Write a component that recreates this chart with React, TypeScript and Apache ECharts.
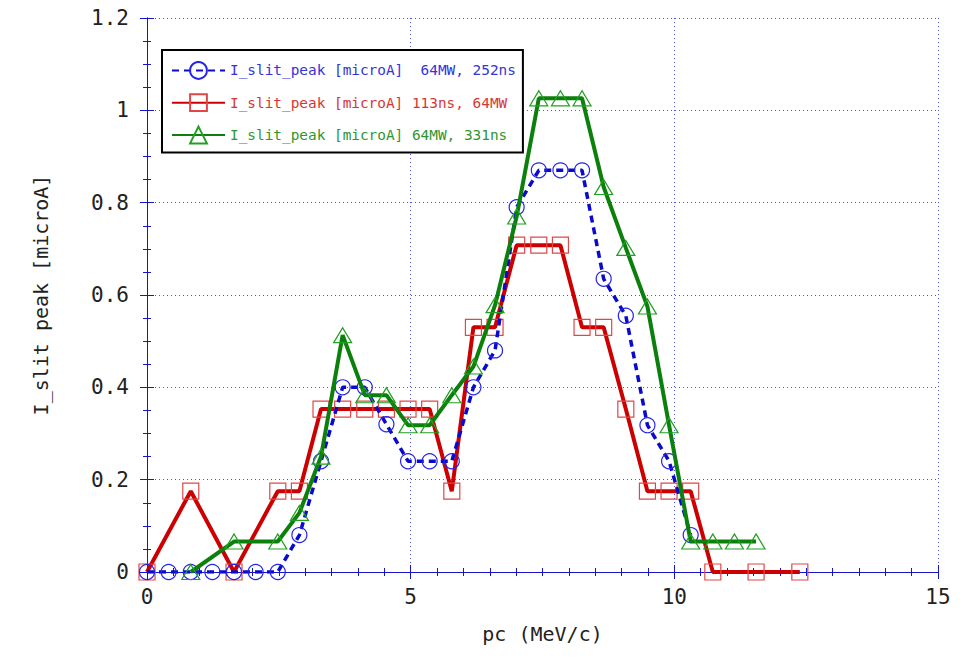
import React, { useEffect, useRef } from "react";
import * as echarts from "echarts";

const blueX = [0, 0.41, 0.83, 1.24, 1.65, 2.06, 2.48, 2.89, 3.3, 3.71, 4.13, 4.54, 4.95, 5.36, 5.78, 6.19, 6.6, 7.01, 7.43, 7.84, 8.25, 8.66, 9.08, 9.49, 9.9, 10.31];
const blueY = [0, 0, 0, 0, 0, 0, 0, 0.08, 0.24, 0.4, 0.4, 0.32, 0.24, 0.24, 0.24, 0.4, 0.48, 0.79, 0.87, 0.87, 0.87, 0.635, 0.555, 0.318, 0.24, 0.08];

const redX = [0, 0.83, 1.65, 2.48, 2.89, 3.3, 3.71, 4.13, 4.54, 4.95, 5.36, 5.78, 6.19, 6.6, 7.01, 7.43, 7.84, 8.25, 8.66, 9.08, 9.49, 9.9, 10.31, 10.73, 11.55, 12.38];
const redY = [0, 0.175, 0, 0.175, 0.175, 0.353, 0.353, 0.353, 0.353, 0.353, 0.353, 0.175, 0.53, 0.53, 0.708, 0.708, 0.708, 0.53, 0.53, 0.353, 0.175, 0.175, 0.175, 0, 0, 0];

const greenX = [0.83, 1.65, 2.48, 2.89, 3.3, 3.71, 4.13, 4.54, 4.95, 5.36, 5.78, 6.19, 6.6, 7.01, 7.43, 7.84, 8.25, 8.66, 9.08, 9.49, 9.9, 10.31, 10.73, 11.14, 11.55];
const greenY = [0, 0.066, 0.066, 0.128, 0.25, 0.513, 0.383, 0.383, 0.318, 0.318, 0.383, 0.445, 0.578, 0.77, 1.026, 1.026, 1.026, 0.834, 0.702, 0.575, 0.318, 0.066, 0.066, 0.066, 0.066];

const seriesNames = [
  "I_slit_peak [microA]  64MW, 252ns",
  "I_slit_peak [microA] 113ns, 64MW",
  "I_slit_peak [microA] 64MW, 331ns",
];
const legendTextColors = ["#3434d8", "#d83636", "#2f962f"];

const xTitle = "pc (MeV/c)";
const yTitle = "I_slit peak [microA]";

const MONO = "'DejaVu Sans Mono', 'Liberation Mono', monospace";
const AXIS_BLUE = "#1515cc";
const GRID_BLUE = "#5050e0";

function pairs(xs: number[], ys: number[]) {
  return xs.map((x, i) => [x, ys[i]]);
}

export default function App() {
  const ref = useRef<HTMLDivElement>(null);
  useEffect(() => {
    if (!ref.current) return;
    const chart = echarts.init(ref.current, undefined, { renderer: "svg" });
    const frameAxis = {
      axisLine: { show: true, lineStyle: { color: AXIS_BLUE, width: 1 } },
      axisTick: { show: true, inside: true, length: 7, lineStyle: { color: AXIS_BLUE } },
      minorTick: { show: true, length: 4, lineStyle: { color: AXIS_BLUE } },
    };
    chart.setOption({
      animation: false,
      backgroundColor: "#fff",
      grid: { left: 147, right: 33, top: 18, bottom: 86, show: false },
      legend: {
        show: true,
        orient: "vertical",
        left: 162,
        top: 50,
        backgroundColor: "#fff",
        borderColor: "#000",
        borderWidth: 2,
        borderRadius: 0,
        padding: [11, 7, 8, 9],
        itemWidth: 53,
        itemHeight: 21,
        itemGap: 13.5,
        selectedMode: false,
        textStyle: { fontFamily: MONO, fontSize: 14.4 },
        data: seriesNames.map((n, i) => ({ name: n, textStyle: { color: legendTextColors[i], fontFamily: MONO, fontSize: 14.4 } })),
      },
      xAxis: [
        {
          type: "value",
          min: 0,
          max: 15,
          interval: 5,
          position: "bottom",
          ...frameAxis,
          minorTick: { ...frameAxis.minorTick, splitNumber: 10 },
          splitLine: { show: true, lineStyle: { color: GRID_BLUE, type: [1, 3], width: 1 } },
          axisLabel: { fontFamily: MONO, fontSize: 21, color: "#222", margin: 14 },
          name: xTitle,
          nameLocation: "middle",
          nameGap: 52,
          nameTextStyle: { fontFamily: MONO, fontSize: 20, color: "#222" },
        },
        {
          type: "value",
          min: 0,
          max: 15,
          interval: 5,
          position: "top",
          ...frameAxis,
          minorTick: { ...frameAxis.minorTick, splitNumber: 10 },
          splitLine: { show: false },
          axisLabel: { show: false },
        },
      ],
      yAxis: [
        {
          type: "value",
          min: 0,
          max: 1.2,
          interval: 0.2,
          position: "left",
          ...frameAxis,
          minorTick: { ...frameAxis.minorTick, splitNumber: 4 },
          splitLine: { show: true, lineStyle: { color: GRID_BLUE, type: [1, 3], width: 1 } },
          axisLabel: {
            fontFamily: MONO,
            fontSize: 21,
            color: "#222",
            margin: 18,
            formatter: (v: number) => (Math.abs(v) < 1e-9 ? "0" : Math.abs(v - 1) < 1e-9 ? "1" : v.toFixed(1)),
          },
          name: yTitle,
          nameLocation: "middle",
          nameGap: 96,
          nameTextStyle: { fontFamily: MONO, fontSize: 20, color: "#222" },
        },
        {
          type: "value",
          min: 0,
          max: 1.2,
          interval: 0.2,
          position: "right",
          ...frameAxis,
          minorTick: { ...frameAxis.minorTick, splitNumber: 4 },
          splitLine: { show: false },
          axisLabel: { show: false },
        },
      ],
      series: [
        {
          name: seriesNames[0],
          type: "line",
          data: pairs(blueX, blueY),
          symbol: "circle",
          symbolSize: 15,
          itemStyle: { color: "rgba(0,0,0,0)", borderColor: "#2525ea", borderWidth: 1.2 },
          lineStyle: { color: "#0a0acc", width: 3.5, type: [7, 5] },
          emphasis: { disabled: true },
          silent: true,
          z: 3,
        },
        {
          name: seriesNames[1],
          type: "line",
          data: pairs(redX, redY),
          symbol: "rect",
          symbolSize: 16,
          itemStyle: { color: "rgba(0,0,0,0)", borderColor: "#e04848", borderWidth: 1.2 },
          lineStyle: { color: "#cc0000", width: 4 },
          emphasis: { disabled: true },
          silent: true,
          z: 2,
        },
        {
          name: seriesNames[2],
          type: "line",
          data: pairs(greenX, greenY),
          symbol: "triangle",
          symbolSize: [18, 15],
          itemStyle: { color: "rgba(0,0,0,0)", borderColor: "#22a022", borderWidth: 1.2 },
          lineStyle: { color: "#0c800c", width: 4 },
          emphasis: { disabled: true },
          silent: true,
          z: 4,
        },
      ],
    });
    return () => chart.dispose();
  }, []);
  return <div ref={ref} style={{ width: 971, height: 658, position: "absolute", left: 0, top: 0 }} />;
}
